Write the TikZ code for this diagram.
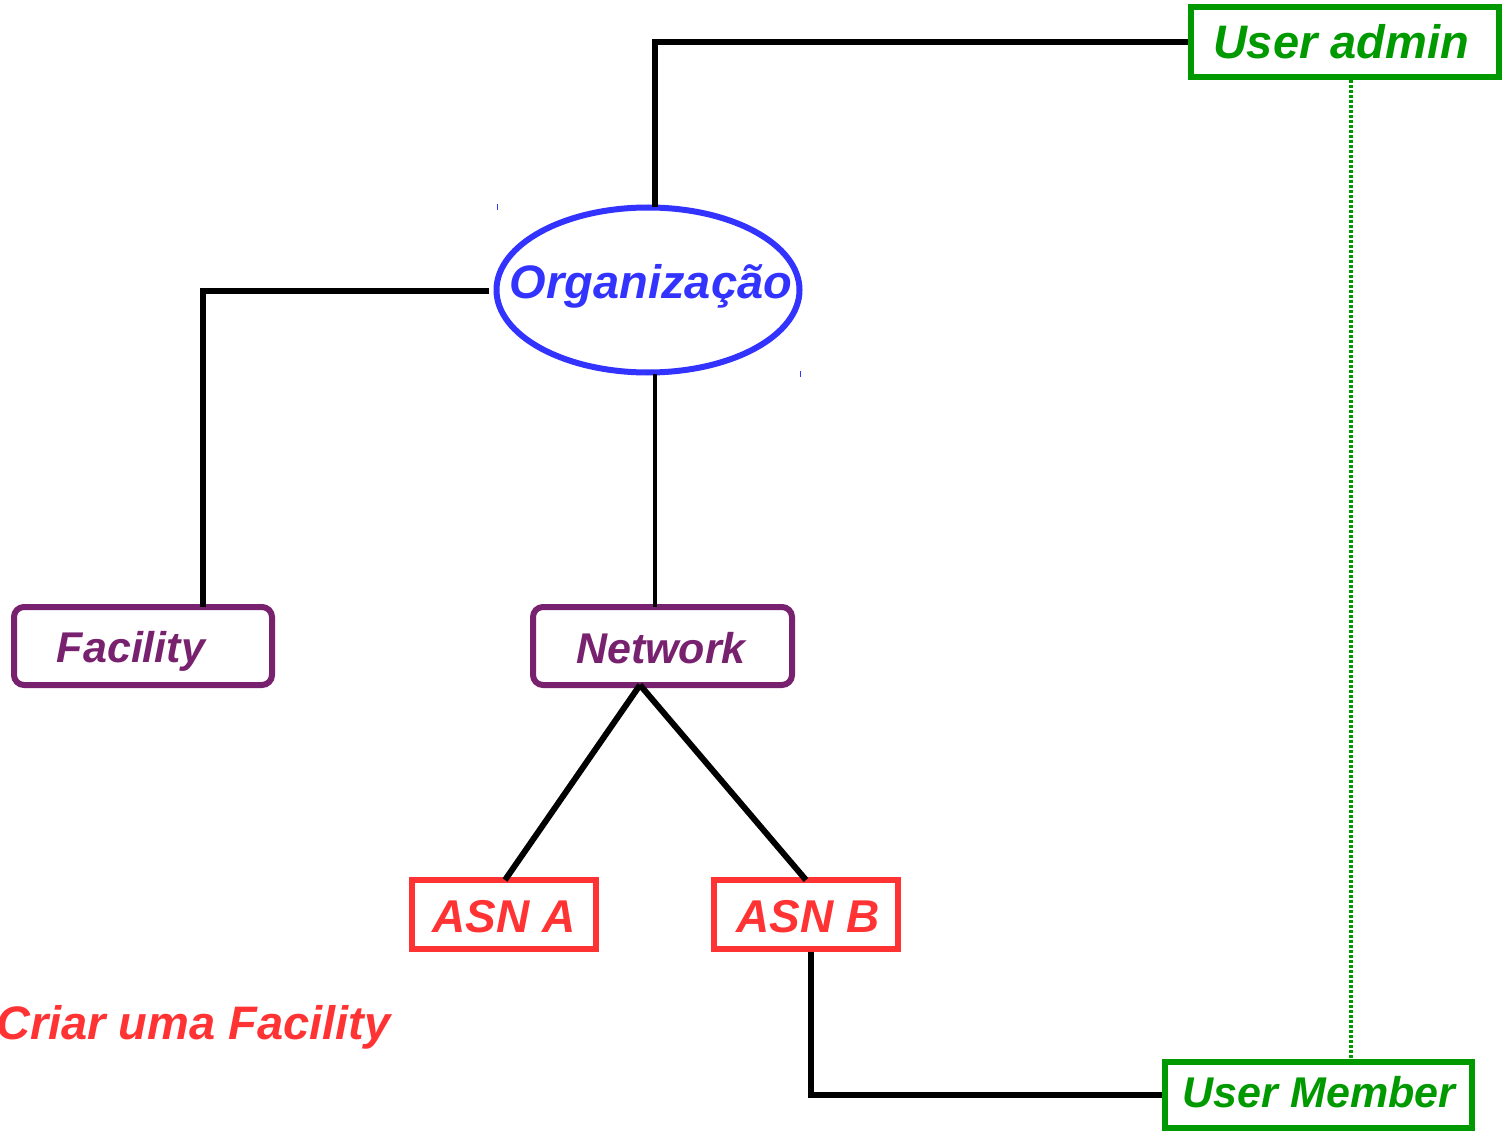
\documentclass[tikz,border=0pt]{standalone}
\usepackage{fontspec}
\setmainfont{Liberation Sans}
\usetikzlibrary{shapes.geometric}
\definecolor{orgblue}{HTML}{3333FF}
\definecolor{grpurple}{HTML}{77216F}
\definecolor{asnred}{HTML}{FF3333}
\definecolor{usrgreen}{HTML}{009900}
\tikzset{
  lbl/.style={font=\bfseries\itshape\fontsize{#1}{#1}\selectfont, inner sep=0pt},
  userbox/.style={draw=usrgreen, line width=6pt, text=usrgreen, rectangle, inner sep=0pt},
  groupbox/.style={draw=grpurple, line width=6pt, text=grpurple, rectangle, rounded corners=10pt, inner sep=0pt},
  asnbox/.style={draw=asnred, line width=6pt, text=asnred, rectangle, inner sep=0pt},
  link/.style={draw=black, line width=6pt},
  thinlink/.style={draw=black, line width=4pt},
}
\begin{document}
\begin{tikzpicture}[x=1pt, y=-1pt]
\useasboundingbox (0,0) rectangle (1503,1131);

% boxes
\node[userbox, minimum width=308pt, minimum height=70pt] (admin) at (1345,42) {};
\node[lbl=47, text=usrgreen] (admint) at (1341,42) {User admin};

\node[draw=orgblue, line width=6pt, ellipse, minimum width=303pt, minimum height=165pt, inner sep=0pt] (org) at (648,290) {};
\node[lbl=47, text=orgblue] (orgt) at (651,286) {Organização};

\node[groupbox, minimum width=258pt, minimum height=78pt] (fac) at (143,646) {};
\node[lbl=43, text=grpurple] (fact) at (131,651) {Facility};

\node[groupbox, minimum width=259pt, minimum height=78pt] (net) at (662.5,646) {};
\node[lbl=43, text=grpurple] (nett) at (661,648) {Network};

\node[asnbox, minimum width=184pt, minimum height=69pt] (asna) at (504,914.5) {};
\node[lbl=46, text=asnred] (asnat) at (504,917) {ASN A};

\node[asnbox, minimum width=184pt, minimum height=69pt] (asnb) at (806,914.5) {};
\node[lbl=46, text=asnred] (asnbt) at (808,917) {ASN B};

\node[userbox, minimum width=307pt, minimum height=66pt] (member) at (1318.5,1095) {};
\node[lbl=43, text=usrgreen] (membert) at (1319,1092) {User Member};

\node[lbl=47, text=asnred, anchor=west] (criar) at (-4,1027) {Criar uma Facility};

% connectors
\coordinate (orgtop) at (655,207);
\coordinate (orgleft) at (489,291);
\coordinate (orgbot) at (655,374);
\coordinate (netbot) at (640,685);
\draw[link] (orgtop) |- (admin.west);
\draw[link] (orgleft) -| (203,607);
\draw[thinlink] (orgbot) -- (655,607);
\draw[link] (netbot) -- (505,880);
\draw[link] (netbot) -- (806,880);
\draw[link] (811,952) |- (member.west);
\draw[usrgreen, line width=4pt, dash pattern=on 3pt off 2pt] (1351,80) -- (1351,1059);

% small handle marks
\draw[orgblue, line width=1pt] (497,204) -- (497,210);
\draw[orgblue, line width=1pt] (800,371) -- (800,377);
\end{tikzpicture}
\end{document}
